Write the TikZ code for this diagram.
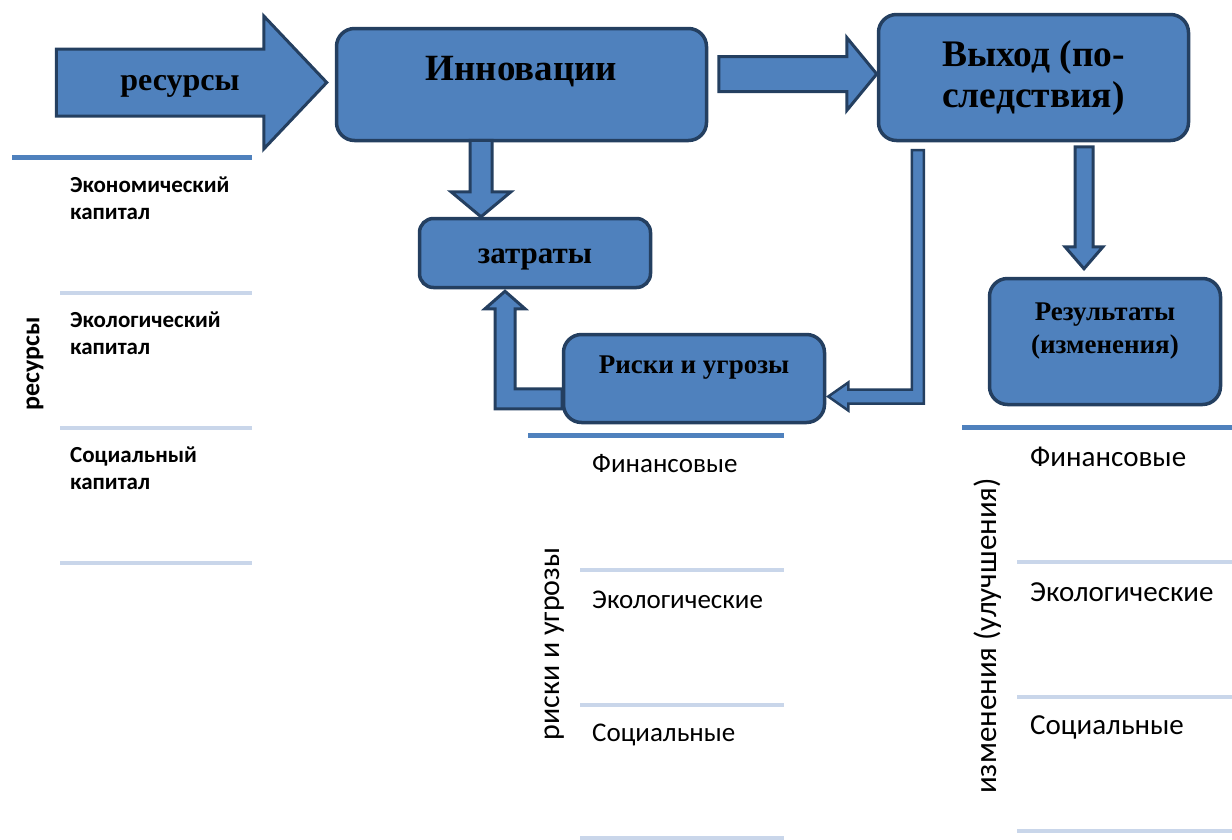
\documentclass[tikz,border=0pt]{standalone}
\usepackage{fontspec}
\setmainfont{Liberation Serif}
\setsansfont{Carlito}
\usetikzlibrary{positioning,calc}
\definecolor{boxfill}{HTML}{4F81BD}
\definecolor{boxline}{HTML}{243F60}
\definecolor{softrule}{HTML}{C9D6EA}

\begin{document}
\begin{tikzpicture}[x=1pt,y=-1pt,
  box/.style={draw=boxline,fill=boxfill,line width=3.5pt,rounded corners=18pt,align=center,inner sep=0pt},
  blk/.style={draw=boxline,fill=boxfill,line width=3pt,line join=miter},
  thinblk/.style={draw=boxline,fill=boxfill,line width=2.5pt,line join=miter},
  item/.style={font=\sffamily\fontsize{#1}{27}\selectfont,anchor=west,inner sep=0pt,align=left},
  bolditem/.style={font=\sffamily\bfseries\fontsize{#1}{27}\selectfont,anchor=west,inner sep=0pt,align=left},
  side/.style={font=\sffamily\fontsize{#1}{#1}\selectfont,rotate=90,inner sep=0pt},
  boldside/.style={font=\sffamily\bfseries\fontsize{#1}{#1}\selectfont,rotate=90,inner sep=0pt},
  toprule/.style={draw=boxfill,line width=5pt},
  seprule/.style={draw=softrule,line width=4pt}
]
  \useasboundingbox (0,0) rectangle (1232,839);

  % main boxes
  \node[box,minimum width=370pt,minimum height=112pt,text height=25pt,text depth=34pt,
        font=\bfseries\fontsize{37}{40}\selectfont] (innov) at (521.5,84.5) {Инновации};
  \node[box,minimum width=310pt,minimum height=126pt,
        font=\bfseries\fontsize{37.5}{41}\selectfont] (vyh) at (1033.5,77.5) {Выход (по-\\следствия)};
  \node[box,minimum width=231pt,minimum height=69pt,rounded corners=14pt,text height=28pt,text depth=8pt,
        font=\bfseries\fontsize{31}{36}\selectfont] (zat) at (535,253) {затраты};
  \node[box,minimum width=261pt,minimum height=88pt,text height=20pt,text depth=31pt,
        font=\bfseries\fontsize{27}{31}\selectfont] (risk) at (694,378.5) {Риски и угрозы};
  \node[box,minimum width=231pt,minimum height=126pt,text depth=26pt,
        font=\bfseries\fontsize{27}{33}\selectfont] (rezult) at (1105,341.5) {Результаты\\(изменения)};

  % block arrows
  \draw[blk] ([xshift=-8pt,yshift=2pt]innov.west) -- ++(-63,-66.5) -- ++(0,33) -- ++(-207.5,0)
    -- ++(0,67) -- ++(207.5,0) -- ++(0,33) -- cycle;
  \node[font=\bfseries\fontsize{32}{36}\selectfont,inner sep=0pt,anchor=base] (resin) at (180,90) {ресурсы};
  \draw[blk] ([yshift=3.5pt]vyh.west) -- ++(-30,-36.5) -- ++(0,19) -- ++(-128,0)
    -- ++(0,35) -- ++(128,0) -- ++(0,19) -- cycle;
  \draw[blk] ([xshift=-54pt]zat.north) -- ++(-30,-25) -- ++(19,0) -- ++(0,-51.5)
    -- ++(22,0) -- ++(0,51.5) -- ++(19,0) -- cycle;
  \draw[blk] ([xshift=-21pt,yshift=8pt]rezult.north) -- ++(-19,-22) -- ++(10,0) -- ++(0,-100)
    -- ++(18,0) -- ++(0,100) -- ++(10,0) -- cycle;
  \draw[blk] ([xshift=-30pt,yshift=-2pt]zat.south) -- ++(-20,17.5) -- ++(10,0) -- ++(0,100)
    -- ++(67,0) -- ++(0,-20) -- ++(-47,0) -- ++(0,-80) -- ++(10,0) -- cycle;
  \draw[thinblk] ([xshift=2pt,yshift=-18pt]risk.east) -- ++(20,-14) -- ++(0,7) -- ++(63.5,0)
    -- ++(0,-239.5) -- ++(12,0) -- ++(0,253.5) -- ++(-75.5,0) -- ++(0,7) -- cycle;

  % resources list
  \draw[toprule] (12,157) -- (252,157);
  \foreach \y in {293,428,563} \draw[seprule] (60,\y) -- (252,\y);
  \node[bolditem=23] (l1) at (70,198.5) {Экономический\\капитал};
  \node[bolditem=23] (l2) at (70,333) {Экологический\\капитал};
  \node[bolditem=23] (l3) at (70,468) {Социальный\\капитал};
  \node[boldside=26] (sideL) at (35,364) {ресурсы};

  % risks list
  \draw[toprule] (528,435) -- (784,435);
  \foreach \y in {570,705,838} \draw[seprule] (580,\y) -- (784,\y);
  \node[item=27] (m1) at (592,464) {Финансовые};
  \node[item=27] (m2) at (592,600) {Экологические};
  \node[item=27] (m3) at (592,735) {Социальные};
  \node[side=30] (sideM) at (555,644) {риски и угрозы};

  % changes list
  \draw[toprule] (962,427) -- (1232,427);
  \foreach \y in {562,697,831} \draw[seprule] (1017,\y) -- (1232,\y);
  \node[item=29] (r1) at (1030,457) {Финансовые};
  \node[item=29] (r2) at (1030,592) {Экологические};
  \node[item=29] (r3) at (1030,727) {Социальные};
  \node[side=31] (sideR) at (988,636) {изменения (улучшения)};
\end{tikzpicture}
\end{document}
